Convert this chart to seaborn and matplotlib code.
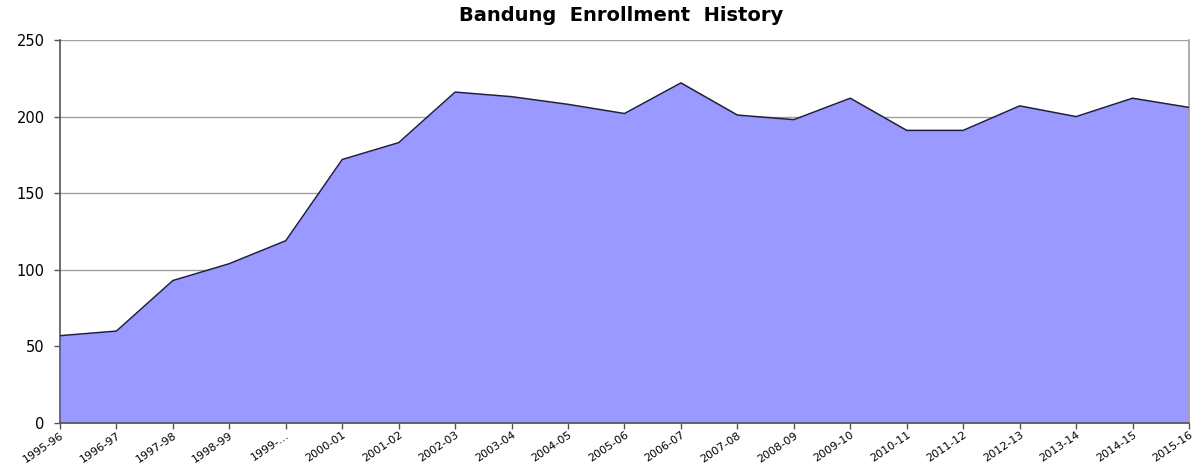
import matplotlib
matplotlib.use("Agg")
import matplotlib.pyplot as plt
import seaborn as sns
import pandas as pd

years = ["1995-96", "1996-97", "1997-98", "1998-99", "1999-\u2026", "2000-01", "2001-02",
         "2002-03", "2003-04", "2004-05", "2005-06", "2006-07", "2007-08", "2008-09",
         "2009-10", "2010-11", "2011-12", "2012-13", "2013-14", "2014-15", "2015-16"]
enrollment = [57, 60, 93, 104, 119, 172, 183, 216, 213, 208, 202, 222, 201, 198,
              212, 191, 191, 207, 200, 212, 206]
y_ticks = [0, 50, 100, 150, 200, 250]

sns.set_theme(style="white")
plt.rcParams['font.family'] = ['DejaVu Sans']

df = pd.DataFrame({"pos": range(len(years)), "enrollment": enrollment})

fig = plt.figure(figsize=(12.02, 4.65), dpi=100)
ax = fig.add_axes([0.0499, 0.0903, 0.9393, 0.8237])

ax.fill_between(df["pos"], 0, df["enrollment"], color="#9999FF", linewidth=0, zorder=2)
sns.lineplot(data=df, x="pos", y="enrollment", ax=ax, color="#222222", linewidth=1.1, zorder=3)

ax.set_xlim(0, len(years) - 1)
ax.set_ylim(0, 250)
ax.set_yticks(y_ticks)
ax.set_yticklabels([str(v) for v in y_ticks], fontsize=10.5)
ax.set_xticks(range(len(years)))
ax.set_xticklabels(years, rotation=34, ha="right", rotation_mode="anchor", fontsize=8)
ax.yaxis.grid(True, color="#a0a0a0", linewidth=1.0, zorder=1)
ax.set_axisbelow(True)
ax.set_xlabel("")
ax.set_ylabel("")

ax.spines["top"].set_visible(False)
ax.spines["left"].set_color("#555555")
ax.spines["bottom"].set_color("#555555")
ax.spines["right"].set_color("#a0a0a0")
for s in ax.spines.values():
    s.set_linewidth(1.2)

ax.tick_params(axis="both", which="both", length=4, width=1, color="#555555",
               direction="out", bottom=True, left=True, labelcolor="black")
ax.tick_params(axis="x", pad=1)
ax.tick_params(axis="y", pad=7)

fig.text(0.517, 0.966, "Bandung  Enrollment  History", ha="center", va="center",
         fontsize=14, fontweight="bold", color="black")

fig.savefig("out.png", dpi=100)
